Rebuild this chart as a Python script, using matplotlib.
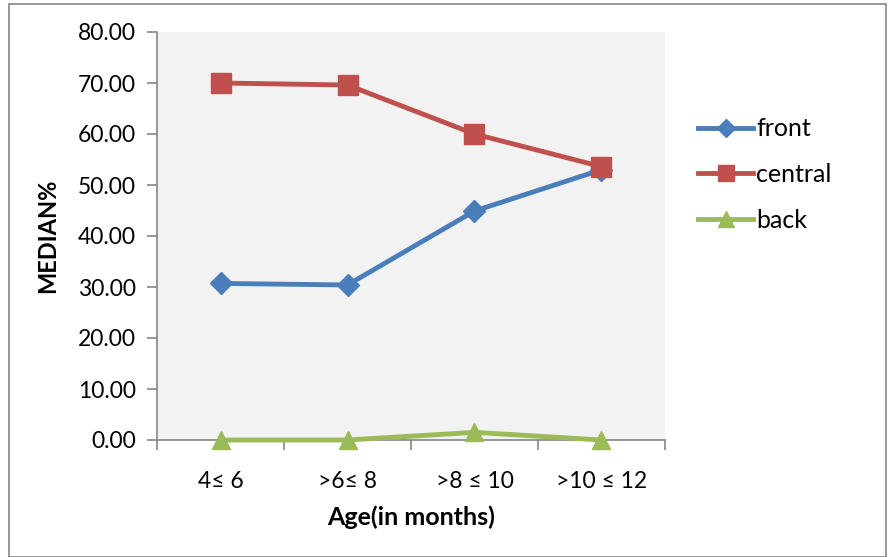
import matplotlib.pyplot as plt
from matplotlib.lines import Line2D
from matplotlib.patches import Rectangle

plt.rcParams['font.family'] = ['Lato', 'DejaVu Sans']

ages = ['4≤ 6', '>6≤ 8', '>8 ≤ 10', '>10 ≤ 12']
front = [30.7, 30.4, 44.9, 53.0]
central = [70.0, 69.6, 60.0, 53.6]
back = [0.0, 0.0, 1.5, 0.0]

fig = plt.figure(figsize=(8.95, 5.57), dpi=100)
ax = fig.add_axes([157 / 895, 1 - 440 / 557, (665 - 157) / 895, (440 - 32) / 557])
ax.set_facecolor('#f2f2f2')

x = range(len(ages))
ax.plot(x, front, color='#4a7ebb', lw=3.5, marker='D', ms=11, label='front', zorder=3)
ax.plot(x, central, color='#c0504d', lw=3.5, marker='s', ms=14, label='central', zorder=4)
ax.plot(x, back, color='#9bbb59', lw=3.5, marker='^', ms=13, label='back', zorder=5, clip_on=False)

ax.set_xlim(-0.5, len(ages) - 0.5)
ax.set_ylim(0, 80)
ax.set_yticks(range(0, 81, 10))
ax.set_yticklabels([f'{v:.2f}' for v in range(0, 81, 10)], fontsize=16.5)
ax.set_xticks(list(x))
ax.set_xticklabels(ages, fontsize=16.5)
ax.set_xticks([i - 0.5 for i in range(len(ages) + 1)], minor=True)
ax.tick_params(axis='x', which='major', length=0, pad=22)
ax.tick_params(axis='x', which='minor', length=7, color='#868686', width=1.2)
ax.tick_params(axis='y', length=7, color='#868686', width=1.2, pad=8)

for side in ['top', 'right']:
    ax.spines[side].set_visible(False)
for side in ['left', 'bottom']:
    ax.spines[side].set_color('#868686')
    ax.spines[side].set_linewidth(1.2)

ax.set_xlabel('Age(in months)', fontsize=18, fontweight='bold', labelpad=10)
ax.set_ylabel('MEDIAN%', fontsize=17, fontweight='bold', va='center')
ax.yaxis.set_label_coords(-0.215, 0.5)

handles = [
    Line2D([], [], color='#4a7ebb', lw=3.5, marker='D', ms=9),
    Line2D([], [], color='#c0504d', lw=3.5, marker='s', ms=11),
    Line2D([], [], color='#9bbb59', lw=3.5, marker='^', ms=11),
]
fig.legend(handles, ['front', 'central', 'back'], loc='upper left',
           bbox_to_anchor=(676 / 895, 1 - 95 / 557), frameon=False,
           fontsize=18, handlelength=2.2, handletextpad=0.1, labelspacing=0.9)

fig.patches.append(Rectangle((9 / 895, 0), 1 - 18 / 895, 1 - 4 / 557,
                             transform=fig.transFigure, fill=False,
                             edgecolor='#868686', lw=1.2))

fig.savefig('out.png', dpi=100)
